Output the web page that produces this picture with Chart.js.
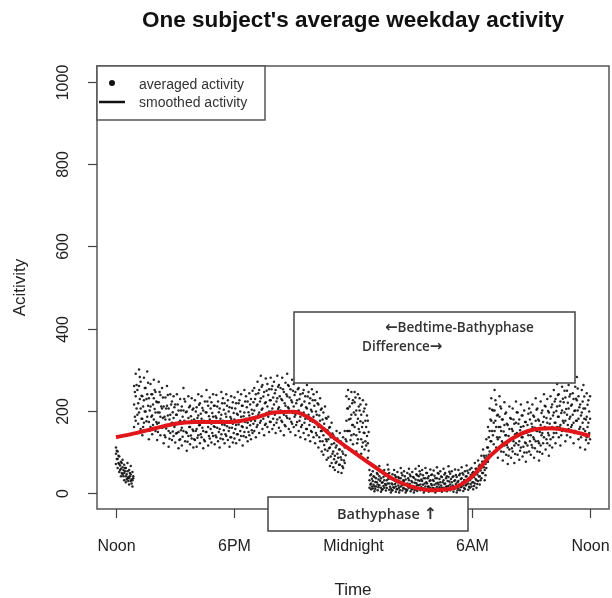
<!DOCTYPE html>
<html>
<head>
<meta charset="utf-8">
<script src="https://cdn.jsdelivr.net/npm/chart.js@4.4.1/dist/chart.umd.min.js"></script>
<style>
  html, body { margin: 0; padding: 0; background: #fff; }
  canvas { display: block; }
</style>
</head>
<body>
<canvas id="c" width="612" height="598"></canvas>
<script>
// ---- data ----
const chartTitle = "One subject's average weekday activity";
const xTitle = "Time";
const yTitle = "Acitivity";
const xTickHours = [0, 6, 12, 18, 24];
const xTickLabels = ["Noon", "6PM", "Midnight", "6AM", "Noon"];
const yTickValues = [0, 200, 400, 600, 800, 1000];
const legendLabels = ["averaged activity", "smoothed activity"];
const noteTop = ["\u2190Bedtime-Bathyphase", "Difference\u2192"];
const noteBottom = "Bathyphase \u2191";

// averaged activity, one value every 5 minutes from noon (12 per hour)
const stepMinutes = 5;
const activityMid = [
  95, 82, 70, 58, 62, 48, 40, 52, 35, 44, 30, 215,
  235, 190, 260, 205, 180, 225, 198, 240, 172, 210, 188, 230,
  195, 168, 220, 185, 205, 160, 178, 212, 150, 190, 170, 182,
  165, 190, 148, 175, 158, 200, 170, 145, 182, 160, 176, 150,
  172, 155, 188, 165, 180, 150, 170, 195, 160, 178, 168, 185,
  160, 182, 170, 155, 190, 175, 165, 185, 172, 158, 180, 168,
  178, 165, 190, 172, 185, 160, 195, 180, 170, 188, 175, 192,
  200, 185, 215, 195, 230, 205, 190, 220, 210, 198, 225, 205,
  215, 195, 230, 208, 200, 225, 190, 212, 235, 205, 198, 220,
  210, 190, 225, 200, 185, 215, 195, 180, 205, 190, 175, 198,
  185, 170, 190, 160, 175, 150, 140, 155, 125, 130, 110, 118,
  100, 90, 115, 85, 105, 80, 95, 110, 175, 205, 150, 190,
  165, 220, 140, 180, 200, 130, 170, 145, 160, 120, 30, 22,
  28, 15, 35, 20, 40, 12, 25, 30, 18, 45, 22, 10,
  20, 30, 15, 25, 12, 35, 18, 28, 8, 22, 30, 15,
  25, 12, 32, 18, 40, 20, 28, 10, 35, 22, 15, 30,
  18, 28, 10, 35, 20, 25, 12, 30, 22, 15, 38, 20,
  25, 15, 30, 12, 28, 20, 35, 18, 25, 40, 22, 30,
  35, 25, 45, 30, 50, 40, 60, 75, 55, 90, 110, 150,
  175, 140, 200, 160, 130, 185, 150, 120, 165, 140, 110, 155,
  130, 150, 115, 170, 140, 125, 160, 135, 145, 120, 165, 150,
  140, 160, 130, 175, 150, 120, 165, 145, 185, 155, 170, 140,
  180, 160, 195, 170, 210, 185, 165, 200, 220, 175, 190, 205,
  185, 215, 170, 200, 225, 180, 160, 195, 205, 150, 185, 170,
  180
];
const activityHigh = [
  110, 100, 88, 75, 80, 68, 60, 72, 55, 65, 50, 260,
  290, 250, 300, 270, 235, 280, 255, 295, 230, 265, 240, 275,
  245, 220, 270, 238, 255, 210, 232, 260, 205, 240, 222, 235,
  215, 240, 200, 228, 210, 255, 222, 198, 235, 212, 230, 205,
  225, 208, 240, 218, 235, 200, 222, 250, 212, 232, 220, 240,
  212, 238, 222, 205, 245, 230, 218, 240, 225, 208, 235, 220,
  232, 218, 245, 225, 240, 212, 250, 235, 222, 242, 228, 248,
  255, 240, 270, 250, 285, 262, 245, 278, 265, 252, 280, 260,
  270, 250, 285, 262, 255, 280, 245, 268, 290, 260, 252, 275,
  265, 245, 280, 255, 240, 270, 250, 235, 262, 245, 230, 252,
  240, 225, 245, 215, 230, 205, 195, 210, 180, 185, 160, 170,
  140, 130, 150, 125, 145, 120, 135, 150, 235, 250, 210, 245,
  225, 245, 200, 240, 230, 190, 225, 205, 215, 175, 55, 45,
  52, 38, 60, 45, 65, 35, 50, 55, 42, 68, 48, 35,
  45, 55, 38, 50, 35, 60, 42, 52, 32, 48, 58, 40,
  50, 36, 58, 42, 65, 45, 55, 35, 60, 48, 40, 56,
  44, 54, 35, 62, 46, 52, 38, 58, 48, 40, 64, 46,
  52, 40, 56, 38, 55, 46, 62, 44, 52, 66, 48, 56,
  60, 50, 72, 58, 78, 68, 90, 105, 85, 130, 160, 205,
  230, 200, 250, 215, 190, 235, 205, 178, 220, 195, 165, 210,
  180, 205, 168, 222, 195, 178, 215, 188, 200, 172, 220, 205,
  195, 215, 185, 230, 205, 175, 222, 200, 240, 210, 228, 195,
  235, 215, 250, 228, 265, 240, 222, 258, 275, 232, 248, 262,
  240, 270, 228, 258, 282, 235, 215, 250, 262, 205, 242, 225,
  235
];
const activityLow = [
  70, 60, 50, 40, 45, 30, 25, 35, 20, 28, 15, 160,
  175, 145, 195, 155, 140, 170, 150, 185, 130, 160, 142, 178,
  150, 128, 170, 140, 158, 120, 135, 165, 112, 145, 128, 138,
  122, 145, 108, 130, 115, 150, 125, 102, 138, 118, 132, 110,
  128, 112, 140, 120, 135, 108, 125, 148, 115, 132, 122, 138,
  118, 135, 125, 110, 142, 130, 120, 138, 128, 112, 135, 122,
  132, 120, 142, 128, 138, 115, 148, 135, 125, 140, 130, 145,
  150, 135, 165, 145, 175, 155, 140, 168, 160, 148, 172, 155,
  165, 145, 178, 158, 150, 172, 140, 162, 182, 155, 148, 168,
  160, 140, 172, 150, 135, 165, 145, 130, 155, 140, 125, 148,
  135, 120, 140, 110, 125, 100, 92, 105, 80, 85, 65, 72,
  62, 55, 75, 50, 68, 48, 60, 72, 125, 150, 105, 140,
  118, 160, 100, 130, 148, 95, 122, 105, 115, 85, 12, 8,
  10, 3, 15, 6, 18, 2, 8, 12, 5, 22, 7, 0,
  6, 12, 2, 9, 0, 15, 5, 10, 0, 7, 12, 3,
  8, 0, 14, 4, 18, 6, 10, 0, 15, 7, 2, 12,
  4, 10, 0, 14, 6, 9, 2, 12, 7, 3, 16, 6,
  9, 2, 12, 0, 10, 6, 15, 4, 9, 20, 7, 12,
  15, 8, 22, 12, 28, 20, 35, 48, 30, 60, 75, 100,
  125, 95, 150, 110, 85, 135, 100, 78, 115, 92, 70, 105,
  85, 100, 72, 120, 92, 80, 110, 88, 98, 75, 115, 100,
  92, 110, 85, 125, 100, 78, 115, 95, 135, 105, 120, 90,
  130, 110, 145, 120, 160, 135, 115, 150, 170, 125, 140, 155,
  135, 165, 120, 150, 175, 130, 110, 145, 155, 105, 135, 120,
  130
];
// second sampling, 2.5 minutes later (between the 5-minute samples)
const offsetMinutes = 2.5;
const activityUpperMid = [
  102, 90, 66, 72, 55, 60, 45, 38, 48, 32, 40, 245,
  262, 218, 282, 236, 210, 255, 228, 268, 200, 240, 215, 250,
  222, 195, 245, 210, 232, 185, 205, 238, 178, 215, 196, 208,
  190, 215, 172, 200, 185, 228, 196, 170, 208, 186, 202, 178,
  198, 182, 214, 192, 206, 175, 196, 222, 186, 205, 194, 212,
  186, 210, 196, 180, 218, 202, 192, 212, 198, 184, 206, 194,
  205, 192, 218, 198, 212, 186, 222, 208, 196, 215, 202, 220,
  228, 212, 242, 222, 258, 234, 218, 248, 238, 225, 252, 232,
  242, 222, 258, 235, 228, 252, 218, 240, 262, 232, 225, 248,
  238, 218, 252, 228, 212, 242, 222, 208, 234, 218, 202, 225,
  212, 198, 218, 188, 202, 178, 168, 182, 152, 158, 135, 144,
  120, 110, 132, 105, 125, 100, 115, 130, 205, 228, 180, 218,
  195, 232, 170, 210, 215, 160, 198, 175, 188, 148, 42, 34,
  40, 26, 48, 32, 52, 24, 38, 42, 30, 56, 35, 22,
  32, 42, 26, 38, 24, 48, 30, 40, 20, 35, 44, 28,
  38, 24, 45, 30, 52, 32, 42, 22, 48, 35, 28, 43,
  31, 41, 22, 48, 33, 39, 25, 44, 35, 28, 51, 33,
  38, 28, 43, 25, 42, 33, 48, 31, 39, 53, 35, 43,
  48, 38, 58, 44, 64, 54, 75, 90, 70, 110, 135, 178,
  202, 170, 225, 188, 160, 210, 178, 149, 192, 168, 138, 182,
  155, 178, 142, 196, 168, 152, 188, 162, 172, 146, 192, 178,
  168, 188, 158, 202, 178, 148, 194, 172, 212, 182, 199, 168,
  208, 188, 222, 199, 238, 212, 194, 229, 248, 204, 219, 234,
  212, 242, 199, 229, 254, 208, 188, 222, 234, 178, 214, 198
];
const activityLowerMid = [
  82, 72, 55, 48, 40, 52, 32, 28, 40, 22, 35, 185,
  205, 168, 228, 180, 160, 198, 174, 212, 151, 185, 165, 204,
  172, 148, 195, 162, 182, 140, 156, 188, 131, 168, 149, 160,
  144, 168, 128, 152, 136, 175, 148, 124, 160, 139, 154, 130,
  150, 134, 164, 142, 158, 129, 148, 172, 138, 155, 145, 162,
  139, 158, 148, 132, 166, 152, 142, 162, 150, 135, 158, 145,
  155, 142, 166, 150, 162, 138, 172, 158, 148, 164, 152, 168,
  175, 160, 190, 170, 202, 180, 165, 194, 185, 173, 198, 180,
  190, 170, 204, 183, 175, 198, 165, 187, 208, 180, 173, 194,
  185, 165, 198, 175, 160, 190, 170, 155, 180, 165, 150, 173,
  160, 145, 165, 135, 150, 125, 116, 130, 102, 108, 88, 95,
  81, 72, 95, 68, 86, 64, 78, 91, 150, 178, 128, 165,
  142, 190, 120, 155, 174, 112, 146, 125, 138, 102, 20, 15,
  19, 9, 25, 13, 29, 7, 16, 21, 11, 33, 14, 5,
  13, 21, 8, 17, 6, 25, 11, 19, 4, 14, 21, 9,
  16, 6, 23, 11, 29, 13, 19, 5, 25, 14, 8, 21,
  11, 19, 5, 24, 13, 17, 7, 21, 14, 9, 27, 13,
  17, 8, 21, 6, 19, 13, 25, 11, 17, 30, 14, 21,
  25, 16, 33, 21, 39, 30, 48, 62, 42, 75, 92, 125,
  150, 118, 175, 135, 108, 160, 125, 99, 140, 116, 90, 130,
  108, 125, 94, 145, 116, 102, 135, 112, 122, 98, 140, 125,
  116, 135, 108, 150, 125, 99, 140, 120, 160, 130, 145, 115,
  155, 135, 170, 145, 185, 160, 140, 175, 195, 150, 165, 180,
  160, 190, 145, 175, 200, 155, 135, 170, 180, 128, 160, 145
];

// smoothed activity, one value per hour from noon
const smoothHours  = [0, 1, 2, 3, 4, 5, 6, 7, 8, 9, 10, 11, 12, 13, 14, 15, 16, 17, 18, 19, 20, 21, 22, 23, 24];
const smoothValues = [135, 145, 157, 168, 172, 172, 173, 182, 195, 197, 175, 135, 100, 66, 34, 14, 6, 10, 38, 92, 130, 152, 157, 150, 138];

// ---- build datasets ----
function toPoints(vals, offset) {
  return vals.map((v, i) => ({ x: (offset + i * stepMinutes) / 60, y: v }));
}
const dotStyle = { type: 'scatter', pointRadius: 1.25, pointHoverRadius: 1.25,
  backgroundColor: 'rgba(15,15,15,0.9)', borderWidth: 0, showLine: false };

const FONT = "'Liberation Sans', Arial, Helvetica, sans-serif";
const NOTE_FONT = "'Open Sans', 'Noto Sans', 'DejaVu Sans', sans-serif";
const ARROW_FONT = "'DejaVu Sans', sans-serif";

function drawRuns(ctx, text, x, y, font, arrowFont) {
  let cx = x;
  for (const ch of text) {
    const isArrow = ch === '\u2190' || ch === '\u2192' || ch === '\u2191';
    ctx.font = isArrow ? arrowFont : font;
    ctx.fillText(ch, cx, y);
    cx += ctx.measureText(ch).width;
  }
}

const rPlot = {
  id: 'rPlot',
  beforeDraw(chart) {
    const ctx = chart.ctx;
    ctx.save();
    ctx.fillStyle = '#fff';
    ctx.fillRect(0, 0, chart.width, chart.height);
    ctx.restore();
  },
  afterDraw(chart) {
    const { ctx, chartArea: a, scales: { x, y } } = chart;
    ctx.save();
    const ink = '#222';
    // plot box
    ctx.strokeStyle = '#555';
    ctx.lineWidth = 1.5;
    ctx.strokeRect(a.left, a.top, a.right - a.left, a.bottom - a.top);

    // x axis ticks & labels
    ctx.strokeStyle = '#444';
    ctx.lineWidth = 1.2;
    ctx.fillStyle = ink;
    ctx.font = "16px " + FONT;
    ctx.textAlign = 'center';
    ctx.textBaseline = 'middle';
    xTickHours.forEach((h, i) => {
      const px = Math.round(x.getPixelForValue(h)) + 0.5;
      ctx.beginPath();
      ctx.moveTo(px, a.bottom);
      ctx.lineTo(px, a.bottom + 9);
      ctx.stroke();
      ctx.fillText(xTickLabels[i], px, 547);
    });
    // y axis ticks & labels (rotated, R style)
    yTickValues.forEach(v => {
      const py = Math.round(y.getPixelForValue(v)) + 0.5;
      ctx.beginPath();
      ctx.moveTo(a.left - 9, py);
      ctx.lineTo(a.left, py);
      ctx.stroke();
      ctx.save();
      ctx.translate(64, py);
      ctx.rotate(-Math.PI / 2);
      ctx.fillText(String(v), 0, 0);
      ctx.restore();
    });

    // axis titles
    ctx.font = "17px " + FONT;
    ctx.fillText(xTitle, (a.left + a.right) / 2, 590);
    ctx.save();
    ctx.translate(20, (a.top + a.bottom) / 2);
    ctx.rotate(-Math.PI / 2);
    ctx.fillText(yTitle, 0, 0);
    ctx.restore();

    // main title
    ctx.fillStyle = '#111';
    ctx.font = "bold 22.5px " + FONT;
    ctx.fillText(chartTitle, (a.left + a.right) / 2, 21);

    // legend (topleft)
    ctx.fillStyle = '#fff';
    ctx.fillRect(a.left, a.top, 168, 54);
    ctx.strokeStyle = '#555';
    ctx.lineWidth = 1.5;
    ctx.strokeRect(a.left, a.top, 168, 54);
    ctx.fillStyle = '#111';
    ctx.beginPath();
    ctx.arc(a.left + 15, a.top + 17, 3, 0, Math.PI * 2);
    ctx.fill();
    ctx.strokeStyle = '#111';
    ctx.lineWidth = 2.5;
    ctx.beginPath();
    ctx.moveTo(a.left + 2, a.top + 36);
    ctx.lineTo(a.left + 28, a.top + 36);
    ctx.stroke();
    ctx.fillStyle = '#333';
    ctx.font = "14px " + FONT;
    ctx.textAlign = 'left';
    ctx.fillText(legendLabels[0], a.left + 42, a.top + 19);
    ctx.fillText(legendLabels[1], a.left + 42, a.top + 37);

    // annotation boxes
    ctx.fillStyle = '#fff';
    ctx.fillRect(294, 312, 281, 71);
    ctx.strokeStyle = '#444';
    ctx.lineWidth = 1.5;
    ctx.strokeRect(294, 312, 281, 71);
    ctx.fillStyle = '#fff';
    ctx.fillRect(268, 497, 200, 34);
    ctx.strokeRect(268, 497, 200, 34);

    ctx.fillStyle = '#333';
    ctx.textAlign = 'left';
    drawRuns(ctx, noteTop[0], 385, 328, "600 13.5px " + NOTE_FONT, "bold 15px " + ARROW_FONT);
    drawRuns(ctx, noteTop[1], 362, 347, "600 13.5px " + NOTE_FONT, "bold 15px " + ARROW_FONT);
    drawRuns(ctx, noteBottom, 337, 515, "600 14.5px " + NOTE_FONT, "bold 16px " + ARROW_FONT);
    ctx.restore();
  }
};

new Chart(document.getElementById('c'), {
  type: 'scatter',
  data: {
    datasets: [
      {
        type: 'line',
        label: legendLabels[1],
        data: smoothHours.map((h, i) => ({ x: h, y: smoothValues[i] })),
        borderColor: '#e0161b',
        borderWidth: 4,
        pointRadius: 0,
        fill: false,
        cubicInterpolationMode: 'monotone'
      },
      Object.assign({ label: legendLabels[0], data: toPoints(activityMid, 0) }, dotStyle),
      Object.assign({ label: legendLabels[0], data: toPoints(activityHigh, 0) }, dotStyle),
      Object.assign({ label: legendLabels[0], data: toPoints(activityLow, 0) }, dotStyle),
      Object.assign({ label: legendLabels[0], data: toPoints(activityUpperMid, offsetMinutes) }, dotStyle),
      Object.assign({ label: legendLabels[0], data: toPoints(activityLowerMid, offsetMinutes) }, dotStyle)
    ]
  },
  options: {
    responsive: false,
    animation: false,
    devicePixelRatio: 1,
    layout: { padding: { left: 97, right: 3, top: 66, bottom: 89 } },
    plugins: { legend: { display: false }, tooltip: { enabled: false }, title: { display: false } },
    scales: {
      x: { type: 'linear', min: -0.96, max: 24.96, display: false },
      y: { type: 'linear', min: -40, max: 1040, display: false }
    }
  },
  plugins: [rPlot]
});
</script>
</body>
</html>
